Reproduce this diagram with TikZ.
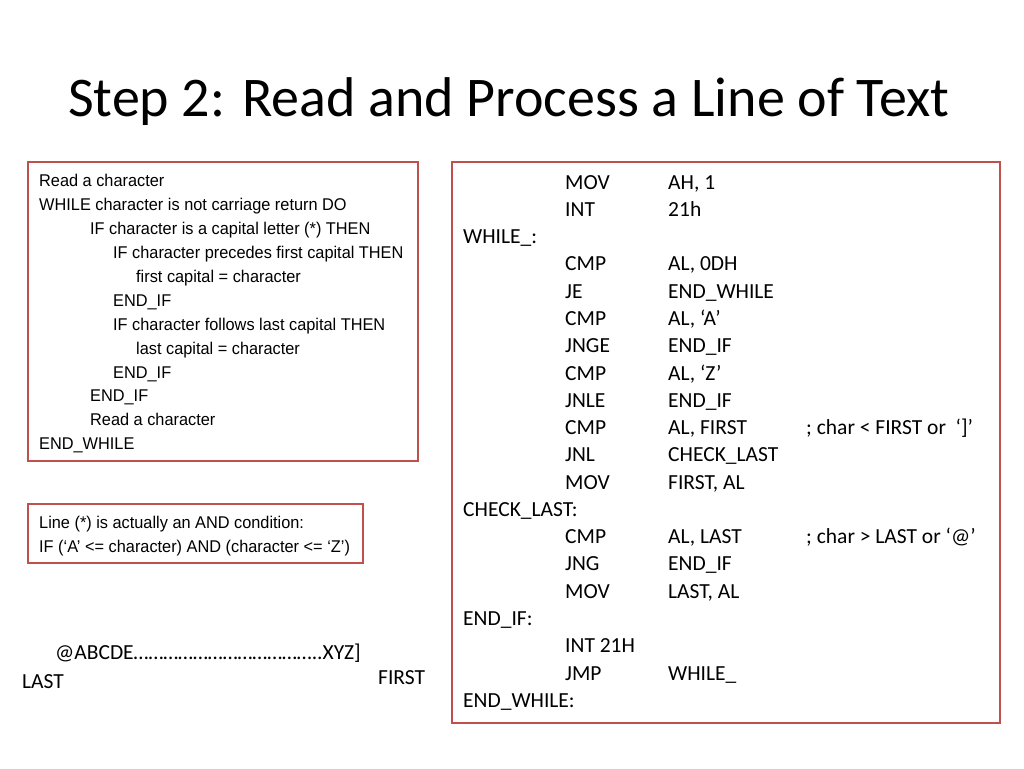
\documentclass[tikz,border=0pt]{standalone}
\usepackage{fontspec}
\setmainfont{Carlito}
\newfontfamily\arialn[FakeStretch=0.96]{Liberation Sans}
\definecolor{bx}{RGB}{192,80,77}
\begin{document}
\begin{tikzpicture}[x=1pt,y=-1pt,
  boxr/.style={draw=bx,line width=1.2pt},
  ps/.style={anchor=base west,inner sep=0pt,font=\arialn\fontsize{17}{17}\selectfont},
  cd/.style={anchor=base west,inner sep=0pt,font=\fontsize{21.5}{21.5}\selectfont}]
\useasboundingbox (0,0) rectangle (1024,768);
\node[anchor=base west,inner sep=0pt,font=\fontsize{56}{56}\selectfont] (title) at (68,116) {Step 2: Read and Process a Line of Text};
\draw[boxr] (28,162) rectangle (418,461);
\node[ps] (p1) at (39,186) {Read a character};
\node[ps] (p2) at (39,210) {WHILE character is not carriage return DO};
\node[ps] (p3) at (90,234) {IF character is a capital letter (*) THEN};
\node[ps] (p4) at (113,258) {IF character precedes first capital THEN};
\node[ps] (p5) at (136,282) {first capital = character};
\node[ps] (p6) at (113,306) {END\_IF};
\node[ps] (p7) at (113,330) {IF character follows last capital THEN};
\node[ps] (p8) at (136,354) {last capital = character};
\node[ps] (p9) at (113,378) {END\_IF};
\node[ps] (p10) at (90,401) {END\_IF};
\node[ps] (p11) at (90,425) {Read a character};
\node[ps] (p12) at (39,449) {END\_WHILE};
\draw[boxr] (28,504) rectangle (363,563);
\node[ps] (n1) at (39,528) {Line (*) is actually an AND condition:};
\node[ps] (n2) at (39,552) {IF (‘A’ <= character) AND (character <= ‘Z’)};
\node[cd] (al) at (55,659) {@ABCDE………………………………..XYZ]};
\node[cd] (last) at (22,688) {LAST};
\node[cd] (first) at (378,684) {FIRST};
\draw[boxr] (452,162) rectangle (1000,723);
\foreach \y/\a/\b/\c/\d [count=\i] in {
 182/{}/MOV/{AH, 1}/{}, 209/{}/INT/{21h}/{}, 236/{WHILE\_:}/{}/{}/{}, 263/{}/CMP/{AL, 0DH}/{},
 291/{}/JE/{END\_WHILE}/{}, 318/{}/CMP/{AL, ‘A’}/{}, 345/{}/JNGE/{END\_IF}/{}, 373/{}/CMP/{AL, ‘Z’}/{},
 400/{}/JNLE/{END\_IF}/{}, 427/{}/CMP/{AL, FIRST}/{; char < FIRST or\ \ ‘]’}, 454/{}/JNL/{CHECK\_LAST}/{},
 482/{}/MOV/{FIRST, AL}/{}, 509/{CHECK\_LAST:}/{}/{}/{}, 536/{}/CMP/{AL, LAST}/{; char > LAST or ‘@’},
 563/{}/JNG/{END\_IF}/{}, 591/{}/MOV/{LAST, AL}/{}, 618/{END\_IF:}/{}/{}/{}, 645/{}/{INT 21H}/{}/{},
 673/{}/JMP/{WHILE\_}/{}, 700/{END\_WHILE:}/{}/{}/{}}{
 \node[cd] (la\i) at (463,\y+7) {\a};
 \node[cd] (mn\i) at (565,\y+7) {\b};
 \node[cd] (op\i) at (668,\y+7) {\c};
 \node[cd] (cm\i) at (806,\y+7) {\d};
}
\end{tikzpicture}
\end{document}
